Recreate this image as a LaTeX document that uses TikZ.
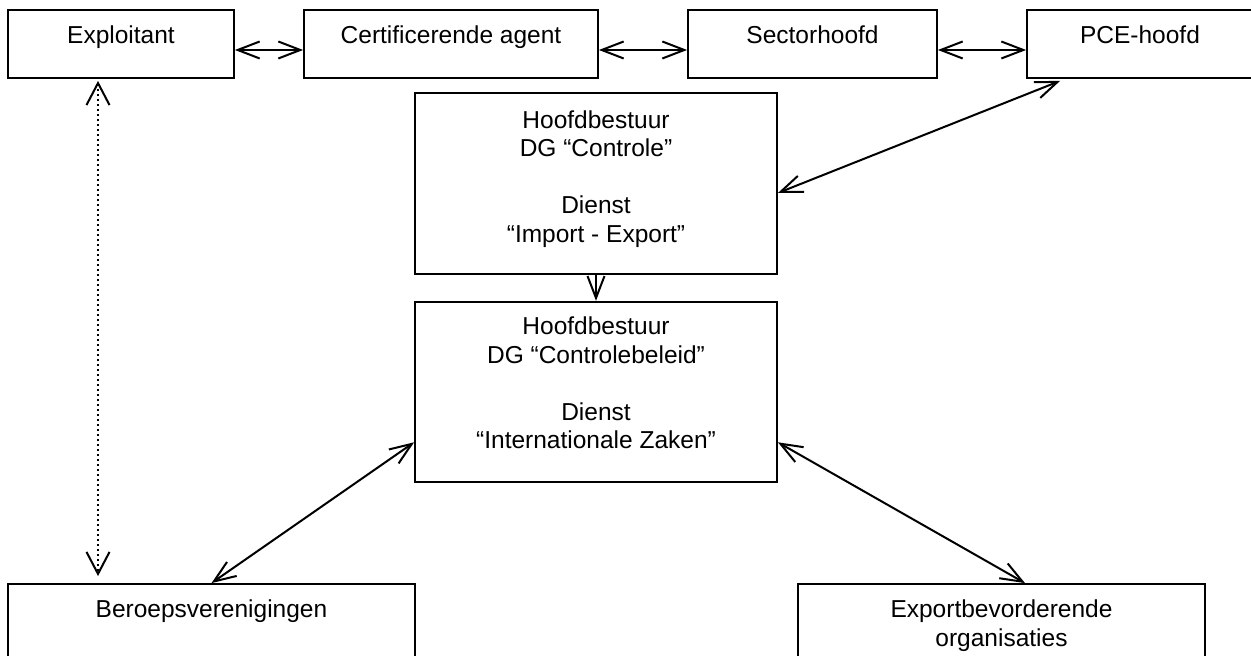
\documentclass[tikz,border=0pt]{standalone}
\usepackage{fontspec}
\setmainfont{Liberation Sans}
\usepackage{tikz}
\usetikzlibrary{arrows.meta, calc}

\begin{document}
\begin{tikzpicture}[
    x=0.5pt, y=-0.5pt,
    >={Straight Barb[length=11pt, width=8.5pt]},
    box/.style={draw, line width=0.9pt, inner sep=0pt},
    txt/.style={anchor=north, inner sep=0pt, align=center,
        font=\fontsize{12.25pt}{14.25pt}\selectfont},
    pijl/.style={<->, line width=1pt}
]

    \useasboundingbox (0,0) rectangle (1251,656);

    % 1. Bovenste rij
    \node[box, minimum width=113pt, minimum height=34pt] (expl) at (121,44) {};
    \node[box, minimum width=147pt, minimum height=34pt] (cert) at (451,44) {};
    \node[box, minimum width=124.5pt, minimum height=34pt] (sect) at (812.5,44) {};
    \node[box, minimum width=113pt, minimum height=34pt] (pce) at (1140,44) {};

    \node[txt] (explT) at (121,25.4) {Exploitant};
    \node[txt] (certT) at (451,25.4) {Certificerende agent};
    \node[txt] (sectT) at (812.5,25.4) {Sectorhoofd};
    \node[txt] (pceT) at (1140,25.4) {PCE-hoofd};

    % 2. Hoofdbestuur (twee diensten)
    \node[box, minimum width=181pt, minimum height=90.35pt] (ctrl) at (596,183.7) {};
    \node[box, minimum width=181pt, minimum height=90.3pt] (ibz) at (596,392) {};

    \node[txt] (ctrlT) at (596,110.1)
        {Hoofdbestuur\\DG “Controle”\\[14.25pt]Dienst\\“Import - Export”};
    \node[txt] (ibzT) at (596,316.7)
        {Hoofdbestuur\\DG “Controlebeleid”\\[14.25pt]Dienst\\“Internationale Zaken”};

    % 3. Onderste rij
    \node[box, minimum width=203.5pt, minimum height=40pt] (beroep) at (211.5,624) {};
    \node[box, minimum width=203.5pt, minimum height=40pt] (exporg) at (1001.5,624) {};

    \node[txt] (beroepT) at (211.5,599.7) {Beroepsverenigingen};
    \node[txt] (exporgT) at (1001.5,599.4) {Exportbevorderende\\organisaties};

    % 4. Pijlen
    \draw[pijl] ([yshift=-3pt]expl.east) -- ([yshift=-3pt]cert.west);
    \draw[pijl] ([yshift=-3pt]cert.east) -- ([yshift=-3pt]sect.west);
    \draw[pijl] ([yshift=-3pt]sect.east) -- ([yshift=-3pt]pce.west);

    \draw[pijl] ([xshift=17pt, yshift=-1pt]pce.south west) -- ([yshift=-4.65pt]ctrl.east);

    \draw[->, line width=1pt] (ctrl.south) -- (ibz.north);

    \draw[pijl] ([yshift=-25.15pt]ibz.west) -- (beroep.north);
    \draw[pijl] ([yshift=-25.15pt]ibz.east) -- ([xshift=11.75pt]exporg.north);

    % 5. Stippellijn Exploitant - Beroepsverenigingen
    \coordinate (dotTop) at ([xshift=-11.5pt]expl.south);
    \draw[
        <->,
        >={Straight Barb[length=11pt, width=11.5pt]},
        line width=1pt,
        dash pattern=on 1pt off 1.5pt,
        shorten <=1pt,
        shorten >=3.5pt
    ]
        (dotTop) --
        (dotTop |- beroep.north);

\end{tikzpicture}
\end{document}
